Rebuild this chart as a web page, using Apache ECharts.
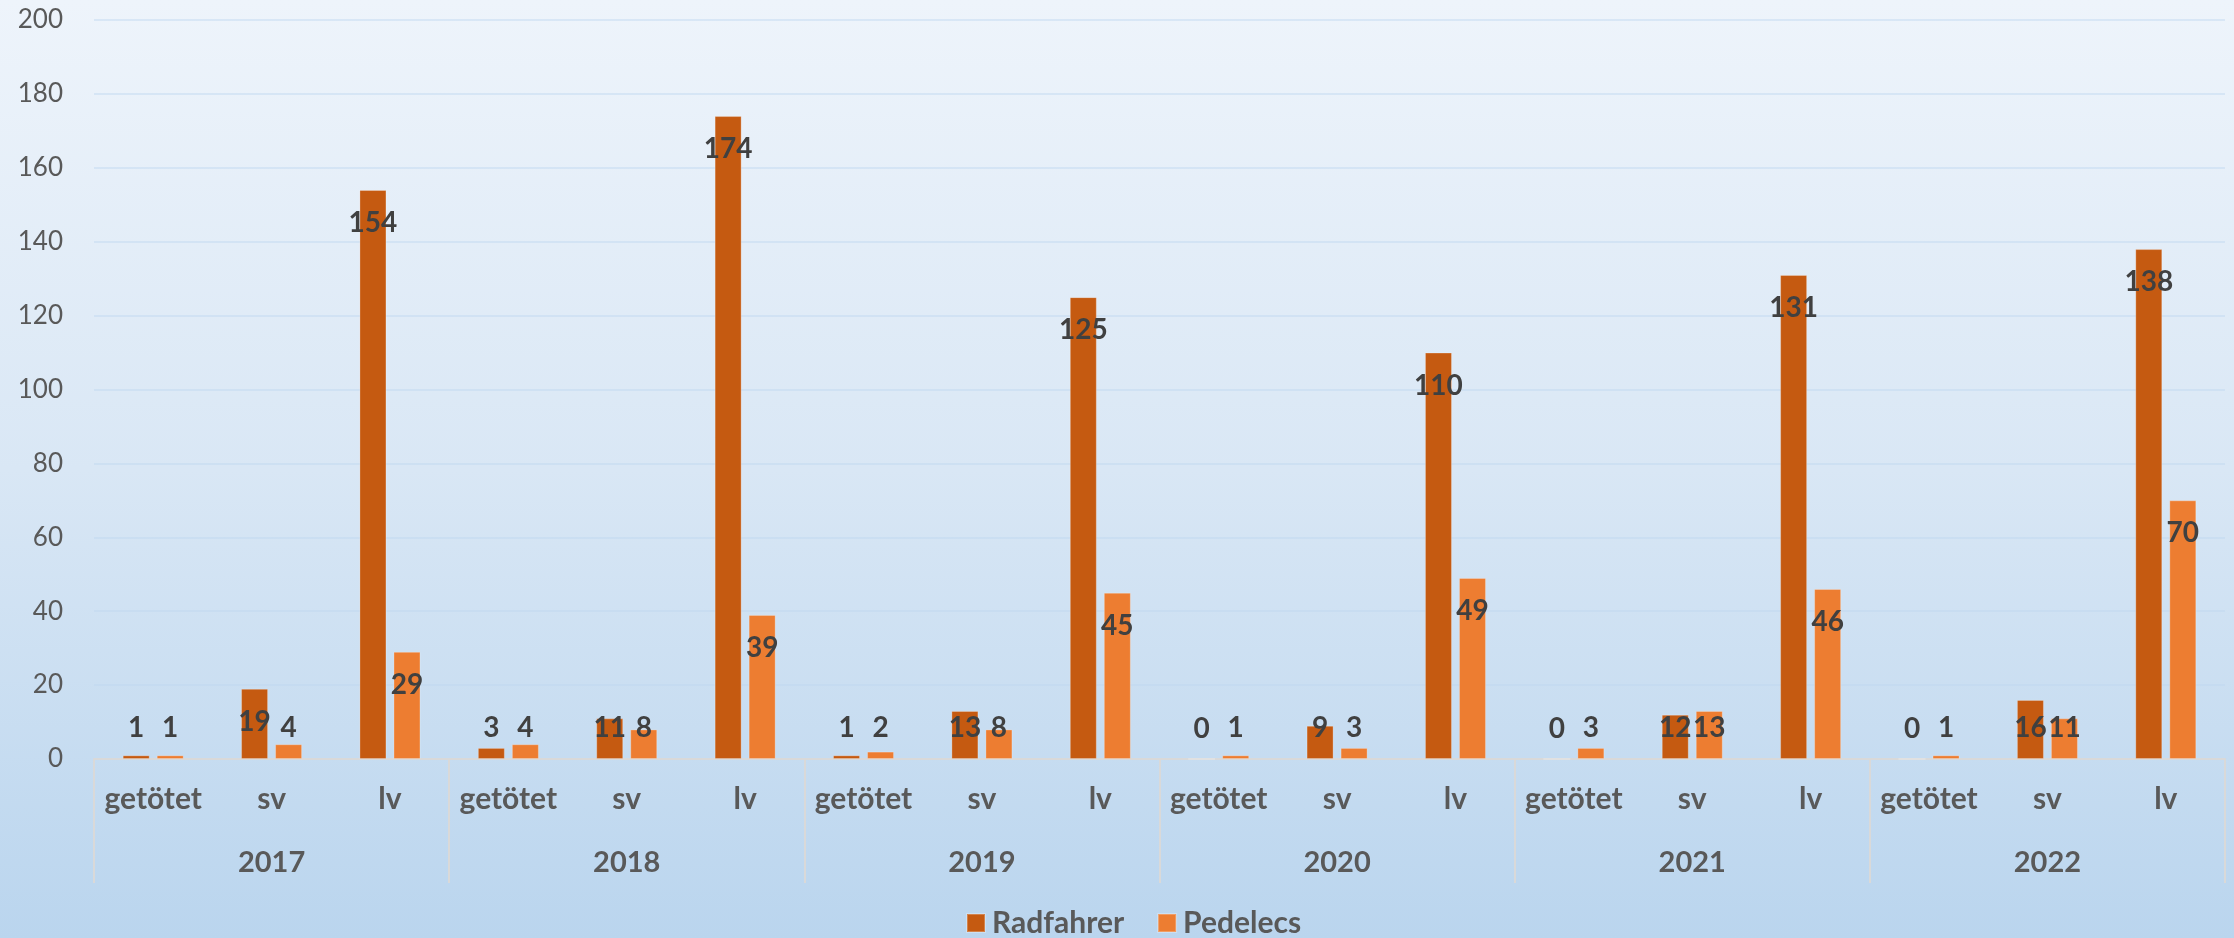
<!DOCTYPE html>
<html>
<head>
<meta charset="utf-8">
<script src="https://cdn.jsdelivr.net/npm/echarts@6/dist/echarts.min.js"></script>
<style>
html,body{margin:0;padding:0;}
#chart{width:2234px;height:938px;}
</style>
</head>
<body>
<div id="chart"></div>
<script>
// ---- data ----
const years = ['2017', '2018', '2019', '2020', '2021', '2022'];
const subCategories = ['getötet', 'sv', 'lv'];
const radfahrer = [1, 19, 154, 3, 11, 174, 1, 13, 125, 0, 9, 110, 0, 12, 131, 0, 16, 138];
const pedelecs  = [1, 4, 29, 4, 8, 39, 2, 8, 45, 1, 3, 49, 3, 13, 46, 1, 11, 70];
const yTicks = { min: 0, max: 200, interval: 20 };
const seriesNames = ['Radfahrer', 'Pedelecs'];

const categories = [];
years.forEach(() => subCategories.forEach(c => categories.push(c)));

const FONT = 'Lato, "Open Sans", sans-serif';
const labelBase = {
  show: true,
  color: '#404040',
  fontFamily: FONT,
  fontWeight: 'bold',
  fontSize: 28,
  lineHeight: 28
};
// Excel "inside end" labels: short bars get their label pushed up to sit on the axis
function withLabels(values) {
  return values.map(v => ({
    value: v,
    label: v >= 18
      ? { position: 'insideTop', distance: 19 }
      : { position: 'insideBottom', distance: 17 }
  }));
}

const chart = echarts.init(document.getElementById('chart'));
chart.setOption({
  backgroundColor: {
    type: 'linear', x: 0, y: 0, x2: 0, y2: 1,
    colorStops: [
      { offset: 0, color: '#EEF4FB' },
      { offset: 0.5, color: '#D9E7F5' },
      { offset: 1, color: '#BAD5EE' }
    ]
  },
  animation: false,
  grid: { left: 94, right: 9, top: 20, bottom: 179, containLabel: false },
  legend: {
    data: seriesNames,
    top: 908,
    left: 966,
    padding: 0,
    itemWidth: 18,
    itemHeight: 18,
    itemGap: 33,
    icon: 'rect',
    textStyle: { color: '#595959', fontFamily: FONT, fontWeight: 'bold', fontSize: 30, lineHeight: 30, padding: [0, 0, 0, 2] }
  },
  xAxis: [
    {
      type: 'category',
      data: categories,
      position: 'bottom',
      axisLine: { show: true, lineStyle: { color: '#D9D9D9', width: 2 } },
      axisTick: { show: false },
      axisLabel: { color: '#595959', fontFamily: FONT, fontWeight: 'bold', fontSize: 30, margin: 25, interval: 0 }
    },
    {
      type: 'category',
      data: years,
      position: 'bottom',
      axisLine: { show: false },
      axisTick: { show: true, length: 124, lineStyle: { color: '#D9D9D9', width: 2 } },
      axisLabel: { color: '#595959', fontFamily: FONT, fontWeight: 'bold', fontSize: 29, margin: 89, interval: 0 }
    }
  ],
  yAxis: {
    type: 'value',
    min: yTicks.min,
    max: yTicks.max,
    interval: yTicks.interval,
    axisLine: { show: false },
    axisTick: { show: false },
    axisLabel: { color: '#595959', fontFamily: FONT, fontSize: 26, margin: 31 },
    splitLine: { lineStyle: { color: 'rgba(190,215,240,0.45)', width: 2 } }
  },
  series: [
    {
      name: seriesNames[0],
      type: 'bar',
      xAxisIndex: 0,
      data: withLabels(radfahrer),
      barWidth: 27,
      barGap: '26%',
      itemStyle: { color: '#C55A11', borderColor: 'rgba(255,255,255,0.25)', borderWidth: 1 },
      label: labelBase
    },
    {
      name: seriesNames[1],
      type: 'bar',
      xAxisIndex: 0,
      data: withLabels(pedelecs),
      barWidth: 27,
      barGap: '26%',
      itemStyle: { color: '#ED7D31', borderColor: 'rgba(255,255,255,0.25)', borderWidth: 1 },
      label: labelBase
    }
  ]
});
</script>
</body>
</html>
